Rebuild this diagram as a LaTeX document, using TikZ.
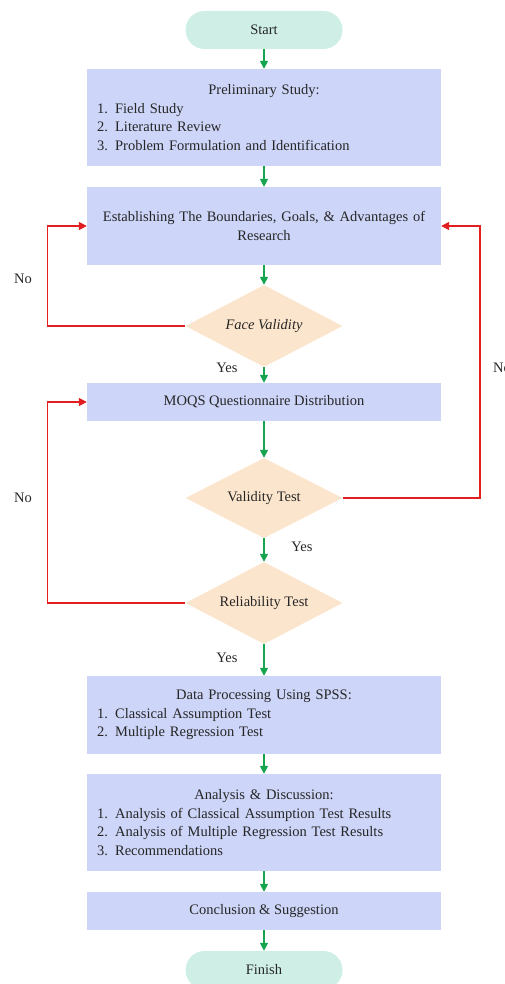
\documentclass[tikz,border=0pt]{standalone}
\usepackage{fontspec}
\setmainfont{Liberation Serif}
\usetikzlibrary{shapes.geometric,arrows.meta}
\definecolor{lila}{RGB}{205,213,248}
\definecolor{menta}{RGB}{207,239,230}
\definecolor{durazno}{RGB}{252,229,205}
\definecolor{verde}{RGB}{22,165,78}
\definecolor{rojo}{RGB}{226,30,30}
\tikzset{
  caja/.style={rectangle,fill=lila,minimum width=354pt,inner xsep=10pt,inner ysep=0pt,
     font=\fontsize{14.5pt}{18.5pt}\selectfont,text=black!85},
  lista/.style={caja,text width=334pt,align=left},
  rombo/.style={diamond,aspect=1.9,fill=durazno,minimum width=157pt,minimum height=82pt,inner sep=0pt,
     font=\fontsize{14.5pt}{18.5pt}\selectfont,text=black!85},
  terminal/.style={rectangle,rounded corners=19pt,fill=menta,minimum width=157pt,minimum height=38pt,
     font=\fontsize{14.5pt}{18.5pt}\selectfont,text=black!85},
  etiqueta/.style={font=\fontsize{14.5pt}{18.5pt}\selectfont,text=black!85},
  flecha/.style={-{Triangle[length=8pt,width=8pt]},draw=verde,line width=1.6pt},
  flechano/.style={-{Triangle[length=8pt,width=8pt]},draw=rojo,line width=1.6pt}
}
\begin{document}
\begin{tikzpicture}[x=1pt,y=-1pt]
    \useasboundingbox (0,0) rectangle (505,984);
    \node[terminal] (inicio) at (264,30) {Start};
    \node[lista,minimum height=97pt] (estudio) at (264,117.5) {\makebox[\hsize]{Preliminary Study:}\\
        1. Field Study\\2. Literature Review\\3. Problem Formulation and Identification};
    \node[caja,text width=334pt,align=center,minimum height=78pt] (limites) at (264,226)
        {Establishing The Boundaries, Goals, \& Advantages of\\Research};
    \node[rombo] (cara) at (264,326) {\itshape Face Validity};
    \node[caja,minimum height=38pt] (moqs) at (264,402) {MOQS Questionnaire Distribution};
    \node[rombo,minimum height=80pt] (validez) at (264,498) {Validity Test};
    \node[rombo] (fiable) at (264,603) {Reliability Test};
    \node[lista,minimum height=78pt] (datos) at (264,715) {\makebox[\hsize]{Data Processing Using SPSS:}\\
        1. Classical Assumption Test\\2. Multiple Regression Test};
    \node[lista,minimum height=97pt] (analisis) at (264,822.5) {\makebox[\hsize]{Analysis \& Discussion:}\\
        1. Analysis of Classical Assumption Test Results\\2. Analysis of Multiple Regression Test Results\\3. Recommendations};
    \node[caja,minimum height=38pt] (conclusion) at (264,911) {Conclusion \& Suggestion};
    \node[terminal] (fin) at (264,970) {Finish};

    \draw[flecha] (inicio) -- (estudio);
    \draw[flecha] (estudio) -- (limites);
    \draw[flecha] (limites) -- (cara);
    \draw[flecha] (cara) -- (moqs);
    \draw[flecha] (moqs) -- (validez);
    \draw[flecha] (validez) -- (fiable);
    \draw[flecha] (fiable) -- (datos);
    \draw[flecha] (datos) -- (analisis);
    \draw[flecha] (analisis) -- (conclusion);
    \draw[flecha] (conclusion) -- (fin);

    \draw[flechano] (cara.west) -- ++(-138,0) |- (limites.west);
    \draw[flechano] (fiable.west) -- ++(-138,0) |- (moqs.west);
    \draw[flechano] (validez.east) -- ++(137,0) |- (limites.east);

    \node[etiqueta] (no1) at (23,279) {No};
    \node[etiqueta] (no2) at (23,498) {No};
    \node[etiqueta,anchor=west,inner sep=0pt] (no3) at (493,368) {No};
    \node[etiqueta] (si1) at (227,368) {Yes};
    \node[etiqueta] (si2) at (302,547) {Yes};
    \node[etiqueta] (si3) at (227,658) {Yes};
\end{tikzpicture}
\end{document}
